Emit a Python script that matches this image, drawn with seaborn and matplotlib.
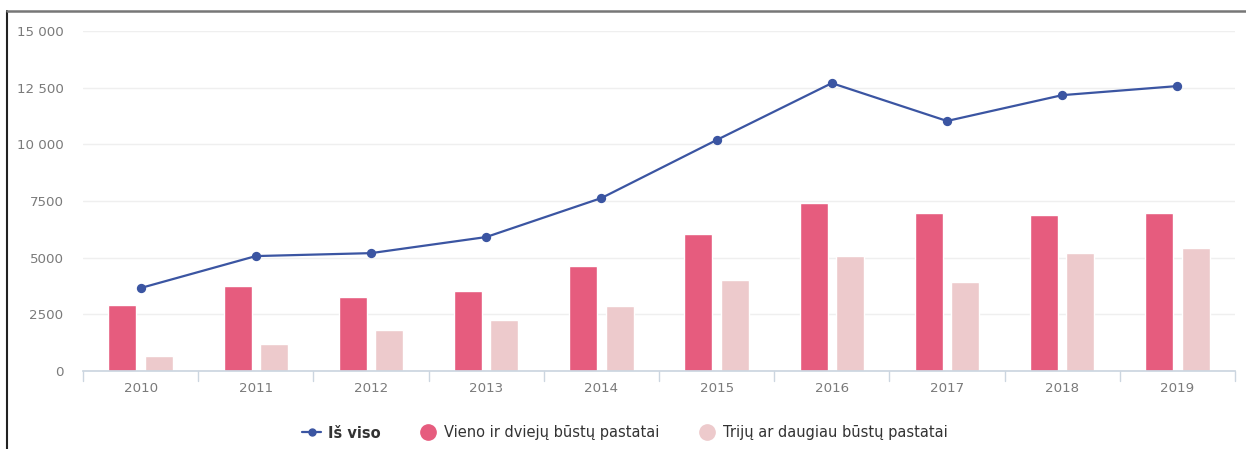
import matplotlib
matplotlib.use("Agg")
import matplotlib.pyplot as plt
from matplotlib.lines import Line2D
import seaborn as sns
import pandas as pd

years = ["2010", "2011", "2012", "2013", "2014", "2015", "2016", "2017", "2018", "2019"]
total = [3660, 5070, 5200, 5910, 7630, 10190, 12700, 11030, 12170, 12570]
one_two = [2910, 3750, 3260, 3530, 4630, 6040, 7410, 6970, 6880, 6970]
three_more = [660, 1190, 1810, 2250, 2870, 4010, 5070, 3930, 5200, 5430]

name_total = "Iš viso"
name_one_two = "Vieno ir dviejų būstų pastatai"
name_three = "Trijų ar daugiau būstų pastatai"

col_total = "#3B55A2"
col_one_two = "#E65C7E"
col_three = "#EDCACC"

bars = pd.DataFrame({
    "year": years * 2,
    "value": one_two + three_more,
    "type": [name_one_two] * len(years) + [name_three] * len(years),
})
line = pd.DataFrame({"year": years, "value": total})

sns.set_theme(style="white")
plt.rcParams["font.family"] = ["DejaVu Sans"]

fig = plt.figure(figsize=(12.46, 4.49), dpi=100)
ax = fig.add_axes([83 / 1246, 78 / 449, (1235 - 83) / 1246, 340 / 449])

sns.barplot(data=bars, x="year", y="value", hue="type",
            palette=[col_one_two, col_three], width=0.63, gap=0.23,
            saturation=1, ax=ax, legend=False, zorder=2)
sns.pointplot(data=line, x="year", y="value", color=col_total,
              markers="o", markersize=5.5, linewidth=1.6, ax=ax, zorder=3)

ax.set_ylim(0, 15000)
ax.set_xlim(-0.5, len(years) - 0.5)
yt = [0, 2500, 5000, 7500, 10000, 12500, 15000]
ax.set_yticks(yt)
ax.set_yticklabels([f"{v:,}".replace(",", " ") if v >= 10000 else str(v) for v in yt])
ax.yaxis.grid(True, color="#EFEFEF", linewidth=1)
ax.set_axisbelow(True)
for s in ["top", "right", "left"]:
    ax.spines[s].set_visible(False)
ax.spines["bottom"].set_color("#CCD6E0")
ax.spines["bottom"].set_zorder(4)
ax.set_xlabel("")
ax.set_ylabel("")
ax.tick_params(axis="y", length=0, pad=14, labelsize=9.6, labelcolor="#7A7A7A")
ax.tick_params(axis="x", length=0, pad=8, labelsize=9.6, labelcolor="#7A7A7A")

# boundary ticks between categories
for b in range(len(years) + 1):
    ax.plot([b - 0.5, b - 0.5], [0, -450], color="#CCD6E0", lw=1,
            clip_on=False, zorder=4)

handles = [
    Line2D([0], [0], color=col_total, marker="o", markersize=5, lw=1.6),
    Line2D([0], [0], color=col_one_two, marker="o", markersize=11, lw=0),
    Line2D([0], [0], color=col_three, marker="o", markersize=11, lw=0),
]
leg = fig.legend(handles, [name_total, name_one_two, name_three], loc="center",
                 bbox_to_anchor=(625 / 1246, 1 - 433 / 449), ncol=3, frameon=False,
                 fontsize=10.5, handlelength=1.3, handletextpad=0.45, columnspacing=2.6,
                 labelcolor="#333333")
leg.get_texts()[0].set_fontweight("bold")

# outer frame lines
fig.add_artist(Line2D([7 / 1246, 7 / 1246], [0, 1 - 11 / 449], color="#222222", lw=1.5))
fig.add_artist(Line2D([7 / 1246, 1], [1 - 11 / 449, 1 - 11 / 449], color="#777777", lw=1.8))

fig.savefig("out.png", dpi=100, facecolor="white")
